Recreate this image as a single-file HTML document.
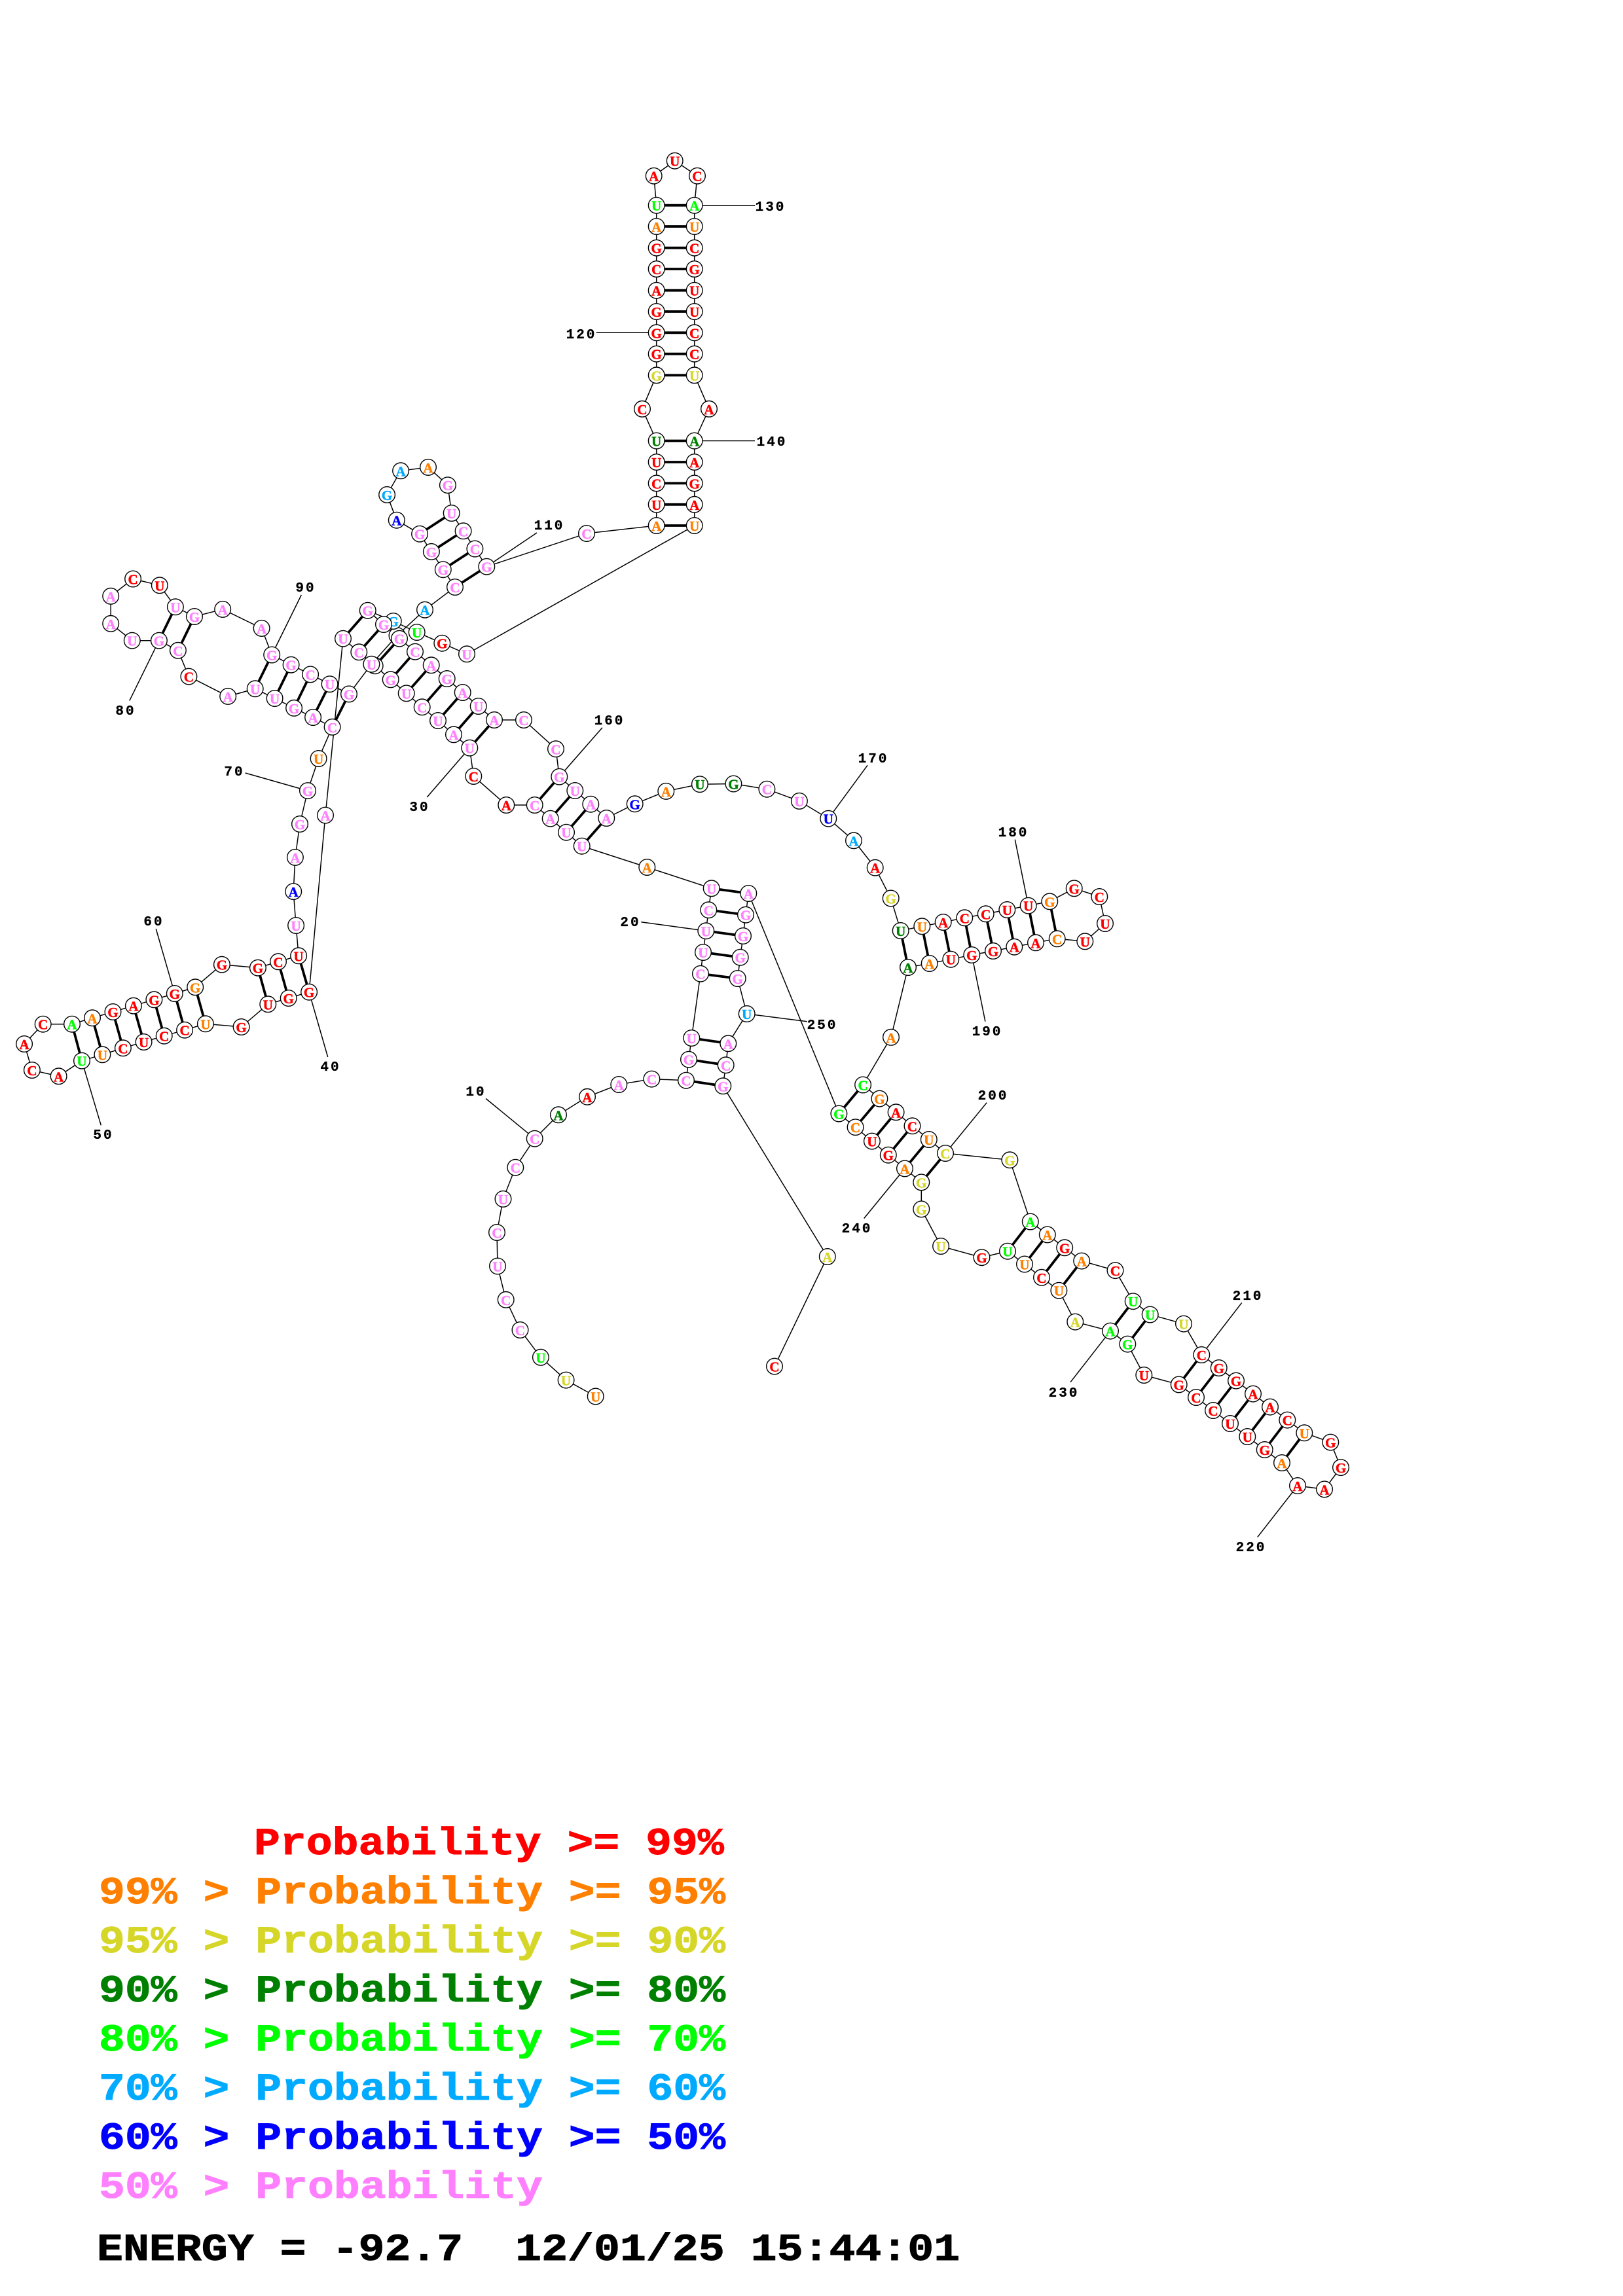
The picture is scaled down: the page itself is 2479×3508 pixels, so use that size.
<!DOCTYPE html>
<html><head><meta charset="utf-8"><title>RNA secondary structure</title>
<style>
html,body{margin:0;padding:0;background:#fff}
svg{display:block}
circle{fill:#fff;stroke:#000;stroke-width:1.4}
.n text{font:bold 21px "Liberation Serif",serif;text-anchor:middle;stroke-width:.5}
.r{fill:#ff0000;stroke:#ff0000}.o{fill:#ff8000;stroke:#ff8000}.y{fill:#d6d628;stroke:#d6d628}.d{fill:#008000;stroke:#008000}.g{fill:#00ff00;stroke:#00ff00}.c{fill:#00aaff;stroke:#00aaff}.b{fill:#0000ff;stroke:#0000ff}.p{fill:#ff80ff;stroke:#ff80ff}.k0{fill:#000;stroke:#000}
.l text{font:bold 21px "Liberation Mono",monospace;text-anchor:middle;letter-spacing:3px;fill:#000;stroke:#000;stroke-width:.3}
.k text{font:bold 58px "Liberation Mono",monospace;white-space:pre;stroke-width:.9}
</style></head><body>
<svg xmlns="http://www.w3.org/2000/svg" width="2479" height="3508" viewBox="0 0 2479 3508">
<rect width="2479" height="3508" fill="#fff"/>
<polyline fill="none" stroke="#000" stroke-width="1.5" points="909.7,2133.5 864.6,2108.6 825.9,2073.8 794.5,2032 772.7,1985.8 760,1934.5 759,1883 768.5,1831.9 787.3,1783.7 816.7,1739.7 853,1703.3 897,1675.8 945.3,1657 995.4,1648.6 1048,1650.7 1052,1618.7 1056.3,1586 1070,1487.7 1074,1455 1078.3,1422.3 1082.3,1390.3 1086.7,1357.3 988.3,1325 888.7,1292.7 865,1271.7 840.7,1250.7 816.7,1230 773.3,1230 723.3,1186 717.3,1142.7 693,1122.3 669,1101 644.7,1080.3 620.7,1059.3 596.7,1038.3 572.7,1017.3 548.3,996.3 524,975.7 497,1245.6 472.1,1515.7 440.7,1525 409.3,1534.3 368.6,1569 313.9,1564.3 282.1,1573.7 250.7,1582.7 219.6,1592 187.9,1601.3 156.4,1611.3 125,1620.7 89.6,1644.3 48.9,1635 37.1,1595 65.7,1564.7 110,1564.7 141,1555.3 172.5,1546 203.9,1536.7 235.4,1527.3 266.8,1518 298.2,1508.3 338.9,1473.7 393.9,1478.7 425,1469.3 456.1,1460.3 452.1,1414 448.2,1362.1 450.9,1309.9 458,1259 470,1208.1 486.6,1159 507.6,1110.8 478.1,1096 449.1,1081.8 419.6,1067 389.7,1052.3 348.2,1063.9 288.4,1033.6 271.9,993.8 242.9,978.7 201.8,978.7 169.2,952.8 169.2,910.8 203.1,884.5 243.8,894.3 267.9,927.3 297,942 340.2,930.9 399.6,959.9 415.2,1000.5 444.6,1015.7 474.1,1030.4 503.6,1045.2 533,1060.4 567.4,1014.8 606.5,971 649,931.7 695,897 676.8,870.2 658.9,842.9 641.1,815.7 605.8,794.7 591.1,755.9 612.1,719.3 654,713.9 683.9,741.2 689.7,784 707.6,811.3 725.4,838.5 743.3,865.7 896,815 1002.7,803 1002.7,770.8 1002.7,738.4 1002.7,706 1002.7,673.5 981,624.8 1002.7,573.3 1002.7,540.7 1002.7,508.3 1002.7,476 1002.7,443.7 1002.7,411 1002.7,378.7 1002.7,346 1002.7,313.7 998.7,268.7 1030.7,245.7 1065,268.7 1060.7,313.7 1060.7,346 1060.7,378.7 1060.7,411 1060.7,443.7 1060.7,476 1060.7,508.3 1060.7,540.7 1060.7,573.3 1083,624.8 1060.7,673.5 1060.7,706 1060.7,738.4 1060.7,770.8 1060.7,803 713,999.3 675.3,982.7 636.7,966 600.7,949 561.7,932.7 586,954 610,975.7 634,995.7 658.7,1016.3 682.7,1037 706.7,1058 730.7,1079 755,1100 800,1100 849,1144.3 854.3,1186.7 878.3,1208 902.3,1228.7 926.3,1250 969.7,1228.3 1017.3,1208.9 1068.9,1198.2 1120.4,1197.5 1171.4,1205.7 1220.9,1223.9 1265.3,1250.7 1304,1284.3 1336.7,1325.7 1360.7,1372.5 1375.7,1422 1408.3,1415.3 1440.7,1409 1473.3,1402.3 1505.7,1396.3 1538.3,1390 1570.7,1383.7 1603.3,1377.3 1640.7,1357.3 1679.3,1370 1688,1411 1657.3,1438.3 1614.7,1434.3 1582,1440.3 1549.3,1446.7 1517,1453 1484.3,1459 1452.3,1465.7 1419.7,1472 1387,1478 1361,1584.8 1318.1,1657.5 1343.4,1678.6 1368.6,1699.3 1393.5,1720.3 1418.8,1741 1444,1762 1542.4,1772.3 1573.8,1866.5 1599.8,1886.4 1626.2,1906.3 1652.2,1926.6 1703.5,1941.1 1730.7,1988.2 1756.7,2008.5 1808,2022.6 1835.3,2070 1861.7,2090 1888,2109.6 1914,2129.6 1940,2149.6 1966.3,2169.6 1992.3,2189.3 2032.3,2203.6 2048,2242.1 2023,2275.4 1982,2270 1958,2235 1931.7,2215 1905.3,2195 1879,2175 1853,2155 1827,2135 1800.7,2115.4 1747.3,2101 1722.3,2053.6 1696,2033.6 1642.3,2019.6 1617.4,1971.7 1591,1951.8 1565,1931.5 1539,1911.7 1499.5,1921.2 1437.1,1904 1407.3,1847.4 1407.3,1806.4 1382,1785.4 1356.8,1764.7 1331.9,1743.6 1306.6,1722.2 1281.4,1701.5 1143.3,1365 1139,1397.7 1135,1430 1130.7,1462.7 1126.7,1495 1140.7,1549 1112.3,1594.3 1108.7,1627.3 1104.3,1659.3 1263.8,1920 1183,2087.6"/>
<path fill="none" stroke="#000" stroke-width="3.8" d="M1048 1650.7L1104.3 1659.3M1052 1618.7L1108.7 1627.3M1056.3 1586L1112.3 1594.3M1070 1487.7L1126.7 1495M1074 1455L1130.7 1462.7M1078.3 1422.3L1135 1430M1082.3 1390.3L1139 1397.7M1086.7 1357.3L1143.3 1365M888.7 1292.7L926.3 1250M865 1271.7L902.3 1228.7M840.7 1250.7L878.3 1208M816.7 1230L854.3 1186.7M717.3 1142.7L755 1100M693 1122.3L730.7 1079M669 1101L706.7 1058M644.7 1080.3L682.7 1037M620.7 1059.3L658.7 1016.3M596.7 1038.3L634 995.7M572.7 1017.3L610 975.7M548.3 996.3L586 954M524 975.7L561.7 932.7M472.1 1515.7L456.1 1460.3M440.7 1525L425 1469.3M409.3 1534.3L393.9 1478.7M313.9 1564.3L298.2 1508.3M282.1 1573.7L266.8 1518M250.7 1582.7L235.4 1527.3M219.6 1592L203.9 1536.7M187.9 1601.3L172.5 1546M156.4 1611.3L141 1555.3M125 1620.7L110 1564.7M507.6 1110.8L533 1060.4M478.1 1096L503.6 1045.2M449.1 1081.8L474.1 1030.4M419.6 1067L444.6 1015.7M389.7 1052.3L415.2 1000.5M271.9 993.8L297 942M242.9 978.7L267.9 927.3M695 897L743.3 865.7M676.8 870.2L725.4 838.5M658.9 842.9L707.6 811.3M641.1 815.7L689.7 784M1002.7 803H1060.7M1002.7 770.8H1060.7M1002.7 738.4H1060.7M1002.7 706H1060.7M1002.7 673.5H1060.7M1002.7 573.3H1060.7M1002.7 540.7H1060.7M1002.7 508.3H1060.7M1002.7 476H1060.7M1002.7 443.7H1060.7M1002.7 411H1060.7M1002.7 378.7H1060.7M1002.7 346H1060.7M1002.7 313.7H1060.7M1375.7 1422L1387 1478M1408.3 1415.3L1419.7 1472M1440.7 1409L1452.3 1465.7M1473.3 1402.3L1484.3 1459M1505.7 1396.3L1517 1453M1538.3 1390L1549.3 1446.7M1570.7 1383.7L1582 1440.3M1603.3 1377.3L1614.7 1434.3M1318.1 1657.5L1281.4 1701.5M1343.4 1678.6L1306.6 1722.2M1368.6 1699.3L1331.9 1743.6M1393.5 1720.3L1356.8 1764.7M1418.8 1741L1382 1785.4M1444 1762L1407.3 1806.4M1573.8 1866.5L1539 1911.7M1599.8 1886.4L1565 1931.5M1626.2 1906.3L1591 1951.8M1652.2 1926.6L1617.4 1971.7M1730.7 1988.2L1696 2033.6M1756.7 2008.5L1722.3 2053.6M1835.3 2070L1800.7 2115.4M1861.7 2090L1827 2135M1888 2109.6L1853 2155M1914 2129.6L1879 2175M1940 2149.6L1905.3 2195M1966.3 2169.6L1931.7 2215M1992.3 2189.3L1958 2235"/>
<path fill="none" stroke="#000" stroke-width="1.5" d="M816.7 1739.7L742.1 1678.5M1078.3 1422.3L979.3 1408.7M717.3 1142.7L652.2 1218M472.1 1515.7L500.7 1615M125 1620.7L154.3 1719.3M266.8 1518L238.2 1419M470 1208.1L374.6 1181M242.9 978.7L197.8 1070.6M415.2 1000.5L460.3 909M743.3 865.7L820 814M1002.7 508.3H910.7M1060.7 313.7H1153.3M1060.7 673.5H1153M854.3 1186.7L920 1111.7M1265.3 1250.7L1325 1169.3M1570.7 1383.7L1550.3 1282.7M1484.3 1459L1504.9 1560.7M1444 1762L1507.2 1684.7M1835.3 2070L1896.7 1990.4M1982 2270L1920.7 2348.6M1696 2033.6L1635 2111.8M1382 1785.4L1319.7 1861.5M1140.7 1549L1232.7 1560.7"/>
<g class="n">
<g class="o" transform="translate(909.7 2133.5)"><circle r="12.3"/><text y="8">U</text></g>
<g class="y" transform="translate(864.6 2108.6)"><circle r="12.3"/><text y="8">U</text></g>
<g class="g" transform="translate(825.9 2073.8)"><circle r="12.3"/><text y="8">U</text></g>
<g class="p" transform="translate(794.5 2032)"><circle r="12.3"/><text y="8">C</text></g>
<g class="p" transform="translate(772.7 1985.8)"><circle r="12.3"/><text y="8">C</text></g>
<g class="p" transform="translate(760 1934.5)"><circle r="12.3"/><text y="8">U</text></g>
<g class="p" transform="translate(759 1883)"><circle r="12.3"/><text y="8">C</text></g>
<g class="p" transform="translate(768.5 1831.9)"><circle r="12.3"/><text y="8">U</text></g>
<g class="p" transform="translate(787.3 1783.7)"><circle r="12.3"/><text y="8">C</text></g>
<g class="p" transform="translate(816.7 1739.7)"><circle r="12.3"/><text y="8">C</text></g>
<g class="d" transform="translate(853 1703.3)"><circle r="12.3"/><text y="8">A</text></g>
<g class="r" transform="translate(897 1675.8)"><circle r="12.3"/><text y="8">A</text></g>
<g class="p" transform="translate(945.3 1657)"><circle r="12.3"/><text y="8">A</text></g>
<g class="p" transform="translate(995.4 1648.6)"><circle r="12.3"/><text y="8">C</text></g>
<g class="p" transform="translate(1048 1650.7)"><circle r="12.3"/><text y="8">C</text></g>
<g class="p" transform="translate(1052 1618.7)"><circle r="12.3"/><text y="8">G</text></g>
<g class="p" transform="translate(1056.3 1586)"><circle r="12.3"/><text y="8">U</text></g>
<g class="p" transform="translate(1070 1487.7)"><circle r="12.3"/><text y="8">C</text></g>
<g class="p" transform="translate(1074 1455)"><circle r="12.3"/><text y="8">U</text></g>
<g class="p" transform="translate(1078.3 1422.3)"><circle r="12.3"/><text y="8">U</text></g>
<g class="p" transform="translate(1082.3 1390.3)"><circle r="12.3"/><text y="8">C</text></g>
<g class="p" transform="translate(1086.7 1357.3)"><circle r="12.3"/><text y="8">U</text></g>
<g class="o" transform="translate(988.3 1325)"><circle r="12.3"/><text y="8">A</text></g>
<g class="p" transform="translate(888.7 1292.7)"><circle r="12.3"/><text y="8">U</text></g>
<g class="p" transform="translate(865 1271.7)"><circle r="12.3"/><text y="8">U</text></g>
<g class="p" transform="translate(840.7 1250.7)"><circle r="12.3"/><text y="8">A</text></g>
<g class="p" transform="translate(816.7 1230)"><circle r="12.3"/><text y="8">C</text></g>
<g class="r" transform="translate(773.3 1230)"><circle r="12.3"/><text y="8">A</text></g>
<g class="r" transform="translate(723.3 1186)"><circle r="12.3"/><text y="8">C</text></g>
<g class="p" transform="translate(717.3 1142.7)"><circle r="12.3"/><text y="8">U</text></g>
<g class="p" transform="translate(693 1122.3)"><circle r="12.3"/><text y="8">A</text></g>
<g class="p" transform="translate(669 1101)"><circle r="12.3"/><text y="8">U</text></g>
<g class="p" transform="translate(644.7 1080.3)"><circle r="12.3"/><text y="8">C</text></g>
<g class="p" transform="translate(620.7 1059.3)"><circle r="12.3"/><text y="8">U</text></g>
<g class="p" transform="translate(596.7 1038.3)"><circle r="12.3"/><text y="8">G</text></g>
<g class="p" transform="translate(572.7 1017.3)"><circle r="12.3"/><text y="8">U</text></g>
<g class="p" transform="translate(548.3 996.3)"><circle r="12.3"/><text y="8">C</text></g>
<g class="p" transform="translate(524 975.7)"><circle r="12.3"/><text y="8">U</text></g>
<g class="p" transform="translate(497 1245.6)"><circle r="12.3"/><text y="8">A</text></g>
<g class="r" transform="translate(472.1 1515.7)"><circle r="12.3"/><text y="8">G</text></g>
<g class="r" transform="translate(440.7 1525)"><circle r="12.3"/><text y="8">G</text></g>
<g class="r" transform="translate(409.3 1534.3)"><circle r="12.3"/><text y="8">U</text></g>
<g class="r" transform="translate(368.6 1569)"><circle r="12.3"/><text y="8">G</text></g>
<g class="o" transform="translate(313.9 1564.3)"><circle r="12.3"/><text y="8">U</text></g>
<g class="r" transform="translate(282.1 1573.7)"><circle r="12.3"/><text y="8">C</text></g>
<g class="r" transform="translate(250.7 1582.7)"><circle r="12.3"/><text y="8">C</text></g>
<g class="r" transform="translate(219.6 1592)"><circle r="12.3"/><text y="8">U</text></g>
<g class="r" transform="translate(187.9 1601.3)"><circle r="12.3"/><text y="8">C</text></g>
<g class="o" transform="translate(156.4 1611.3)"><circle r="12.3"/><text y="8">U</text></g>
<g class="g" transform="translate(125 1620.7)"><circle r="12.3"/><text y="8">U</text></g>
<g class="r" transform="translate(89.6 1644.3)"><circle r="12.3"/><text y="8">A</text></g>
<g class="r" transform="translate(48.9 1635)"><circle r="12.3"/><text y="8">C</text></g>
<g class="r" transform="translate(37.1 1595)"><circle r="12.3"/><text y="8">A</text></g>
<g class="r" transform="translate(65.7 1564.7)"><circle r="12.3"/><text y="8">C</text></g>
<g class="g" transform="translate(110 1564.7)"><circle r="12.3"/><text y="8">A</text></g>
<g class="o" transform="translate(141 1555.3)"><circle r="12.3"/><text y="8">A</text></g>
<g class="r" transform="translate(172.5 1546)"><circle r="12.3"/><text y="8">G</text></g>
<g class="r" transform="translate(203.9 1536.7)"><circle r="12.3"/><text y="8">A</text></g>
<g class="r" transform="translate(235.4 1527.3)"><circle r="12.3"/><text y="8">G</text></g>
<g class="r" transform="translate(266.8 1518)"><circle r="12.3"/><text y="8">G</text></g>
<g class="o" transform="translate(298.2 1508.3)"><circle r="12.3"/><text y="8">G</text></g>
<g class="r" transform="translate(338.9 1473.7)"><circle r="12.3"/><text y="8">G</text></g>
<g class="r" transform="translate(393.9 1478.7)"><circle r="12.3"/><text y="8">G</text></g>
<g class="r" transform="translate(425 1469.3)"><circle r="12.3"/><text y="8">C</text></g>
<g class="r" transform="translate(456.1 1460.3)"><circle r="12.3"/><text y="8">U</text></g>
<g class="p" transform="translate(452.1 1414)"><circle r="12.3"/><text y="8">U</text></g>
<g class="b" transform="translate(448.2 1362.1)"><circle r="12.3"/><text y="8">A</text></g>
<g class="p" transform="translate(450.9 1309.9)"><circle r="12.3"/><text y="8">A</text></g>
<g class="p" transform="translate(458 1259)"><circle r="12.3"/><text y="8">G</text></g>
<g class="p" transform="translate(470 1208.1)"><circle r="12.3"/><text y="8">G</text></g>
<g class="o" transform="translate(486.6 1159)"><circle r="12.3"/><text y="8">U</text></g>
<g class="p" transform="translate(507.6 1110.8)"><circle r="12.3"/><text y="8">C</text></g>
<g class="p" transform="translate(478.1 1096)"><circle r="12.3"/><text y="8">A</text></g>
<g class="p" transform="translate(449.1 1081.8)"><circle r="12.3"/><text y="8">G</text></g>
<g class="p" transform="translate(419.6 1067)"><circle r="12.3"/><text y="8">U</text></g>
<g class="p" transform="translate(389.7 1052.3)"><circle r="12.3"/><text y="8">U</text></g>
<g class="p" transform="translate(348.2 1063.9)"><circle r="12.3"/><text y="8">A</text></g>
<g class="r" transform="translate(288.4 1033.6)"><circle r="12.3"/><text y="8">C</text></g>
<g class="p" transform="translate(271.9 993.8)"><circle r="12.3"/><text y="8">C</text></g>
<g class="p" transform="translate(242.9 978.7)"><circle r="12.3"/><text y="8">G</text></g>
<g class="p" transform="translate(201.8 978.7)"><circle r="12.3"/><text y="8">U</text></g>
<g class="p" transform="translate(169.2 952.8)"><circle r="12.3"/><text y="8">A</text></g>
<g class="p" transform="translate(169.2 910.8)"><circle r="12.3"/><text y="8">A</text></g>
<g class="r" transform="translate(203.1 884.5)"><circle r="12.3"/><text y="8">C</text></g>
<g class="r" transform="translate(243.8 894.3)"><circle r="12.3"/><text y="8">U</text></g>
<g class="p" transform="translate(267.9 927.3)"><circle r="12.3"/><text y="8">U</text></g>
<g class="p" transform="translate(297 942)"><circle r="12.3"/><text y="8">G</text></g>
<g class="p" transform="translate(340.2 930.9)"><circle r="12.3"/><text y="8">A</text></g>
<g class="p" transform="translate(399.6 959.9)"><circle r="12.3"/><text y="8">A</text></g>
<g class="p" transform="translate(415.2 1000.5)"><circle r="12.3"/><text y="8">G</text></g>
<g class="p" transform="translate(444.6 1015.7)"><circle r="12.3"/><text y="8">G</text></g>
<g class="p" transform="translate(474.1 1030.4)"><circle r="12.3"/><text y="8">C</text></g>
<g class="p" transform="translate(503.6 1045.2)"><circle r="12.3"/><text y="8">U</text></g>
<g class="p" transform="translate(533 1060.4)"><circle r="12.3"/><text y="8">G</text></g>
<g class="p" transform="translate(567.4 1014.8)"><circle r="12.3"/><text y="8">U</text></g>
<g class="p" transform="translate(606.5 971)"><circle r="12.3"/><text y="8">G</text></g>
<g class="c" transform="translate(649 931.7)"><circle r="12.3"/><text y="8">A</text></g>
<g class="p" transform="translate(695 897)"><circle r="12.3"/><text y="8">C</text></g>
<g class="p" transform="translate(676.8 870.2)"><circle r="12.3"/><text y="8">G</text></g>
<g class="p" transform="translate(658.9 842.9)"><circle r="12.3"/><text y="8">G</text></g>
<g class="p" transform="translate(641.1 815.7)"><circle r="12.3"/><text y="8">G</text></g>
<g class="b" transform="translate(605.8 794.7)"><circle r="12.3"/><text y="8">A</text></g>
<g class="c" transform="translate(591.1 755.9)"><circle r="12.3"/><text y="8">G</text></g>
<g class="c" transform="translate(612.1 719.3)"><circle r="12.3"/><text y="8">A</text></g>
<g class="o" transform="translate(654 713.9)"><circle r="12.3"/><text y="8">A</text></g>
<g class="p" transform="translate(683.9 741.2)"><circle r="12.3"/><text y="8">G</text></g>
<g class="p" transform="translate(689.7 784)"><circle r="12.3"/><text y="8">U</text></g>
<g class="p" transform="translate(707.6 811.3)"><circle r="12.3"/><text y="8">C</text></g>
<g class="p" transform="translate(725.4 838.5)"><circle r="12.3"/><text y="8">C</text></g>
<g class="p" transform="translate(743.3 865.7)"><circle r="12.3"/><text y="8">G</text></g>
<g class="p" transform="translate(896 815)"><circle r="12.3"/><text y="8">C</text></g>
<g class="o" transform="translate(1002.7 803)"><circle r="12.3"/><text y="8">A</text></g>
<g class="r" transform="translate(1002.7 770.8)"><circle r="12.3"/><text y="8">U</text></g>
<g class="r" transform="translate(1002.7 738.4)"><circle r="12.3"/><text y="8">C</text></g>
<g class="r" transform="translate(1002.7 706)"><circle r="12.3"/><text y="8">U</text></g>
<g class="d" transform="translate(1002.7 673.5)"><circle r="12.3"/><text y="8">U</text></g>
<g class="r" transform="translate(981 624.8)"><circle r="12.3"/><text y="8">C</text></g>
<g class="y" transform="translate(1002.7 573.3)"><circle r="12.3"/><text y="8">G</text></g>
<g class="r" transform="translate(1002.7 540.7)"><circle r="12.3"/><text y="8">G</text></g>
<g class="r" transform="translate(1002.7 508.3)"><circle r="12.3"/><text y="8">G</text></g>
<g class="r" transform="translate(1002.7 476)"><circle r="12.3"/><text y="8">G</text></g>
<g class="r" transform="translate(1002.7 443.7)"><circle r="12.3"/><text y="8">A</text></g>
<g class="r" transform="translate(1002.7 411)"><circle r="12.3"/><text y="8">C</text></g>
<g class="r" transform="translate(1002.7 378.7)"><circle r="12.3"/><text y="8">G</text></g>
<g class="o" transform="translate(1002.7 346)"><circle r="12.3"/><text y="8">A</text></g>
<g class="g" transform="translate(1002.7 313.7)"><circle r="12.3"/><text y="8">U</text></g>
<g class="r" transform="translate(998.7 268.7)"><circle r="12.3"/><text y="8">A</text></g>
<g class="r" transform="translate(1030.7 245.7)"><circle r="12.3"/><text y="8">U</text></g>
<g class="r" transform="translate(1065 268.7)"><circle r="12.3"/><text y="8">C</text></g>
<g class="g" transform="translate(1060.7 313.7)"><circle r="12.3"/><text y="8">A</text></g>
<g class="o" transform="translate(1060.7 346)"><circle r="12.3"/><text y="8">U</text></g>
<g class="r" transform="translate(1060.7 378.7)"><circle r="12.3"/><text y="8">C</text></g>
<g class="r" transform="translate(1060.7 411)"><circle r="12.3"/><text y="8">G</text></g>
<g class="r" transform="translate(1060.7 443.7)"><circle r="12.3"/><text y="8">U</text></g>
<g class="r" transform="translate(1060.7 476)"><circle r="12.3"/><text y="8">U</text></g>
<g class="r" transform="translate(1060.7 508.3)"><circle r="12.3"/><text y="8">C</text></g>
<g class="r" transform="translate(1060.7 540.7)"><circle r="12.3"/><text y="8">C</text></g>
<g class="y" transform="translate(1060.7 573.3)"><circle r="12.3"/><text y="8">U</text></g>
<g class="r" transform="translate(1083 624.8)"><circle r="12.3"/><text y="8">A</text></g>
<g class="d" transform="translate(1060.7 673.5)"><circle r="12.3"/><text y="8">A</text></g>
<g class="r" transform="translate(1060.7 706)"><circle r="12.3"/><text y="8">A</text></g>
<g class="r" transform="translate(1060.7 738.4)"><circle r="12.3"/><text y="8">G</text></g>
<g class="r" transform="translate(1060.7 770.8)"><circle r="12.3"/><text y="8">A</text></g>
<g class="o" transform="translate(1060.7 803)"><circle r="12.3"/><text y="8">U</text></g>
<g class="p" transform="translate(713 999.3)"><circle r="12.3"/><text y="8">U</text></g>
<g class="r" transform="translate(675.3 982.7)"><circle r="12.3"/><text y="8">G</text></g>
<g class="g" transform="translate(636.7 966)"><circle r="12.3"/><text y="8">U</text></g>
<g class="c" transform="translate(600.7 949)"><circle r="12.3"/><text y="8">G</text></g>
<g class="p" transform="translate(561.7 932.7)"><circle r="12.3"/><text y="8">G</text></g>
<g class="p" transform="translate(586 954)"><circle r="12.3"/><text y="8">G</text></g>
<g class="p" transform="translate(610 975.7)"><circle r="12.3"/><text y="8">G</text></g>
<g class="p" transform="translate(634 995.7)"><circle r="12.3"/><text y="8">C</text></g>
<g class="p" transform="translate(658.7 1016.3)"><circle r="12.3"/><text y="8">A</text></g>
<g class="p" transform="translate(682.7 1037)"><circle r="12.3"/><text y="8">G</text></g>
<g class="p" transform="translate(706.7 1058)"><circle r="12.3"/><text y="8">A</text></g>
<g class="p" transform="translate(730.7 1079)"><circle r="12.3"/><text y="8">U</text></g>
<g class="p" transform="translate(755 1100)"><circle r="12.3"/><text y="8">A</text></g>
<g class="p" transform="translate(800 1100)"><circle r="12.3"/><text y="8">C</text></g>
<g class="p" transform="translate(849 1144.3)"><circle r="12.3"/><text y="8">C</text></g>
<g class="p" transform="translate(854.3 1186.7)"><circle r="12.3"/><text y="8">G</text></g>
<g class="p" transform="translate(878.3 1208)"><circle r="12.3"/><text y="8">U</text></g>
<g class="p" transform="translate(902.3 1228.7)"><circle r="12.3"/><text y="8">A</text></g>
<g class="p" transform="translate(926.3 1250)"><circle r="12.3"/><text y="8">A</text></g>
<g class="b" transform="translate(969.7 1228.3)"><circle r="12.3"/><text y="8">G</text></g>
<g class="o" transform="translate(1017.3 1208.9)"><circle r="12.3"/><text y="8">A</text></g>
<g class="d" transform="translate(1068.9 1198.2)"><circle r="12.3"/><text y="8">U</text></g>
<g class="d" transform="translate(1120.4 1197.5)"><circle r="12.3"/><text y="8">G</text></g>
<g class="p" transform="translate(1171.4 1205.7)"><circle r="12.3"/><text y="8">C</text></g>
<g class="p" transform="translate(1220.9 1223.9)"><circle r="12.3"/><text y="8">U</text></g>
<g class="b" transform="translate(1265.3 1250.7)"><circle r="12.3"/><text y="8">U</text></g>
<g class="c" transform="translate(1304 1284.3)"><circle r="12.3"/><text y="8">A</text></g>
<g class="r" transform="translate(1336.7 1325.7)"><circle r="12.3"/><text y="8">A</text></g>
<g class="y" transform="translate(1360.7 1372.5)"><circle r="12.3"/><text y="8">G</text></g>
<g class="d" transform="translate(1375.7 1422)"><circle r="12.3"/><text y="8">U</text></g>
<g class="o" transform="translate(1408.3 1415.3)"><circle r="12.3"/><text y="8">U</text></g>
<g class="r" transform="translate(1440.7 1409)"><circle r="12.3"/><text y="8">A</text></g>
<g class="r" transform="translate(1473.3 1402.3)"><circle r="12.3"/><text y="8">C</text></g>
<g class="r" transform="translate(1505.7 1396.3)"><circle r="12.3"/><text y="8">C</text></g>
<g class="r" transform="translate(1538.3 1390)"><circle r="12.3"/><text y="8">U</text></g>
<g class="r" transform="translate(1570.7 1383.7)"><circle r="12.3"/><text y="8">U</text></g>
<g class="o" transform="translate(1603.3 1377.3)"><circle r="12.3"/><text y="8">G</text></g>
<g class="r" transform="translate(1640.7 1357.3)"><circle r="12.3"/><text y="8">G</text></g>
<g class="r" transform="translate(1679.3 1370)"><circle r="12.3"/><text y="8">C</text></g>
<g class="r" transform="translate(1688 1411)"><circle r="12.3"/><text y="8">U</text></g>
<g class="r" transform="translate(1657.3 1438.3)"><circle r="12.3"/><text y="8">U</text></g>
<g class="o" transform="translate(1614.7 1434.3)"><circle r="12.3"/><text y="8">C</text></g>
<g class="r" transform="translate(1582 1440.3)"><circle r="12.3"/><text y="8">A</text></g>
<g class="r" transform="translate(1549.3 1446.7)"><circle r="12.3"/><text y="8">A</text></g>
<g class="r" transform="translate(1517 1453)"><circle r="12.3"/><text y="8">G</text></g>
<g class="r" transform="translate(1484.3 1459)"><circle r="12.3"/><text y="8">G</text></g>
<g class="r" transform="translate(1452.3 1465.7)"><circle r="12.3"/><text y="8">U</text></g>
<g class="o" transform="translate(1419.7 1472)"><circle r="12.3"/><text y="8">A</text></g>
<g class="d" transform="translate(1387 1478)"><circle r="12.3"/><text y="8">A</text></g>
<g class="o" transform="translate(1361 1584.8)"><circle r="12.3"/><text y="8">A</text></g>
<g class="g" transform="translate(1318.1 1657.5)"><circle r="12.3"/><text y="8">C</text></g>
<g class="o" transform="translate(1343.4 1678.6)"><circle r="12.3"/><text y="8">G</text></g>
<g class="r" transform="translate(1368.6 1699.3)"><circle r="12.3"/><text y="8">A</text></g>
<g class="r" transform="translate(1393.5 1720.3)"><circle r="12.3"/><text y="8">C</text></g>
<g class="o" transform="translate(1418.8 1741)"><circle r="12.3"/><text y="8">U</text></g>
<g class="y" transform="translate(1444 1762)"><circle r="12.3"/><text y="8">C</text></g>
<g class="y" transform="translate(1542.4 1772.3)"><circle r="12.3"/><text y="8">G</text></g>
<g class="g" transform="translate(1573.8 1866.5)"><circle r="12.3"/><text y="8">A</text></g>
<g class="o" transform="translate(1599.8 1886.4)"><circle r="12.3"/><text y="8">A</text></g>
<g class="r" transform="translate(1626.2 1906.3)"><circle r="12.3"/><text y="8">G</text></g>
<g class="o" transform="translate(1652.2 1926.6)"><circle r="12.3"/><text y="8">A</text></g>
<g class="r" transform="translate(1703.5 1941.1)"><circle r="12.3"/><text y="8">C</text></g>
<g class="g" transform="translate(1730.7 1988.2)"><circle r="12.3"/><text y="8">U</text></g>
<g class="g" transform="translate(1756.7 2008.5)"><circle r="12.3"/><text y="8">U</text></g>
<g class="y" transform="translate(1808 2022.6)"><circle r="12.3"/><text y="8">U</text></g>
<g class="r" transform="translate(1835.3 2070)"><circle r="12.3"/><text y="8">C</text></g>
<g class="r" transform="translate(1861.7 2090)"><circle r="12.3"/><text y="8">G</text></g>
<g class="r" transform="translate(1888 2109.6)"><circle r="12.3"/><text y="8">G</text></g>
<g class="r" transform="translate(1914 2129.6)"><circle r="12.3"/><text y="8">A</text></g>
<g class="r" transform="translate(1940 2149.6)"><circle r="12.3"/><text y="8">A</text></g>
<g class="r" transform="translate(1966.3 2169.6)"><circle r="12.3"/><text y="8">C</text></g>
<g class="o" transform="translate(1992.3 2189.3)"><circle r="12.3"/><text y="8">U</text></g>
<g class="r" transform="translate(2032.3 2203.6)"><circle r="12.3"/><text y="8">G</text></g>
<g class="r" transform="translate(2048 2242.1)"><circle r="12.3"/><text y="8">G</text></g>
<g class="r" transform="translate(2023 2275.4)"><circle r="12.3"/><text y="8">A</text></g>
<g class="r" transform="translate(1982 2270)"><circle r="12.3"/><text y="8">A</text></g>
<g class="o" transform="translate(1958 2235)"><circle r="12.3"/><text y="8">A</text></g>
<g class="r" transform="translate(1931.7 2215)"><circle r="12.3"/><text y="8">G</text></g>
<g class="r" transform="translate(1905.3 2195)"><circle r="12.3"/><text y="8">U</text></g>
<g class="r" transform="translate(1879 2175)"><circle r="12.3"/><text y="8">U</text></g>
<g class="r" transform="translate(1853 2155)"><circle r="12.3"/><text y="8">C</text></g>
<g class="r" transform="translate(1827 2135)"><circle r="12.3"/><text y="8">C</text></g>
<g class="r" transform="translate(1800.7 2115.4)"><circle r="12.3"/><text y="8">G</text></g>
<g class="r" transform="translate(1747.3 2101)"><circle r="12.3"/><text y="8">U</text></g>
<g class="g" transform="translate(1722.3 2053.6)"><circle r="12.3"/><text y="8">G</text></g>
<g class="g" transform="translate(1696 2033.6)"><circle r="12.3"/><text y="8">A</text></g>
<g class="y" transform="translate(1642.3 2019.6)"><circle r="12.3"/><text y="8">A</text></g>
<g class="o" transform="translate(1617.4 1971.7)"><circle r="12.3"/><text y="8">U</text></g>
<g class="r" transform="translate(1591 1951.8)"><circle r="12.3"/><text y="8">C</text></g>
<g class="o" transform="translate(1565 1931.5)"><circle r="12.3"/><text y="8">U</text></g>
<g class="g" transform="translate(1539 1911.7)"><circle r="12.3"/><text y="8">U</text></g>
<g class="r" transform="translate(1499.5 1921.2)"><circle r="12.3"/><text y="8">G</text></g>
<g class="y" transform="translate(1437.1 1904)"><circle r="12.3"/><text y="8">U</text></g>
<g class="y" transform="translate(1407.3 1847.4)"><circle r="12.3"/><text y="8">G</text></g>
<g class="y" transform="translate(1407.3 1806.4)"><circle r="12.3"/><text y="8">G</text></g>
<g class="o" transform="translate(1382 1785.4)"><circle r="12.3"/><text y="8">A</text></g>
<g class="r" transform="translate(1356.8 1764.7)"><circle r="12.3"/><text y="8">G</text></g>
<g class="r" transform="translate(1331.9 1743.6)"><circle r="12.3"/><text y="8">U</text></g>
<g class="o" transform="translate(1306.6 1722.2)"><circle r="12.3"/><text y="8">C</text></g>
<g class="g" transform="translate(1281.4 1701.5)"><circle r="12.3"/><text y="8">G</text></g>
<g class="p" transform="translate(1143.3 1365)"><circle r="12.3"/><text y="8">A</text></g>
<g class="p" transform="translate(1139 1397.7)"><circle r="12.3"/><text y="8">G</text></g>
<g class="p" transform="translate(1135 1430)"><circle r="12.3"/><text y="8">G</text></g>
<g class="p" transform="translate(1130.7 1462.7)"><circle r="12.3"/><text y="8">G</text></g>
<g class="p" transform="translate(1126.7 1495)"><circle r="12.3"/><text y="8">G</text></g>
<g class="c" transform="translate(1140.7 1549)"><circle r="12.3"/><text y="8">U</text></g>
<g class="p" transform="translate(1112.3 1594.3)"><circle r="12.3"/><text y="8">A</text></g>
<g class="p" transform="translate(1108.7 1627.3)"><circle r="12.3"/><text y="8">C</text></g>
<g class="p" transform="translate(1104.3 1659.3)"><circle r="12.3"/><text y="8">G</text></g>
<g class="y" transform="translate(1263.8 1920)"><circle r="12.3"/><text y="8">A</text></g>
<g class="r" transform="translate(1183 2087.6)"><circle r="12.3"/><text y="8">C</text></g>
</g>
<g class="l">
<text x="727" y="1674">10</text>
<text x="963" y="1415">20</text>
<text x="641" y="1239">30</text>
<text x="505" y="1636">40</text>
<text x="158" y="1740">50</text>
<text x="235" y="1414">60</text>
<text x="358" y="1185">70</text>
<text x="192" y="1092">80</text>
<text x="467" y="904">90</text>
<text x="839" y="809">110</text>
<text x="888" y="517">120</text>
<text x="1177" y="322">130</text>
<text x="1179" y="681">140</text>
<text x="931" y="1107">160</text>
<text x="1334" y="1165">170</text>
<text x="1548" y="1278">180</text>
<text x="1508" y="1582">190</text>
<text x="1517" y="1680">200</text>
<text x="1906" y="1986">210</text>
<text x="1911" y="2370">220</text>
<text x="1625" y="2134">230</text>
<text x="1309" y="1883">240</text>
<text x="1256" y="1572">250</text>
</g>
<g class="k">
<text class="r" transform="translate(388 2833) scale(1.146 1)">Probability &gt;= 99%</text>
<text class="o" transform="translate(151 2908) scale(1.146 1)">99% &gt; Probability &gt;= 95%</text>
<text class="y" transform="translate(151 2983) scale(1.146 1)">95% &gt; Probability &gt;= 90%</text>
<text class="d" transform="translate(151 3058) scale(1.146 1)">90% &gt; Probability &gt;= 80%</text>
<text class="g" transform="translate(151 3133) scale(1.146 1)">80% &gt; Probability &gt;= 70%</text>
<text class="c" transform="translate(151 3208) scale(1.146 1)">70% &gt; Probability &gt;= 60%</text>
<text class="b" transform="translate(151 3283) scale(1.146 1)">60% &gt; Probability &gt;= 50%</text>
<text class="p" transform="translate(151 3358) scale(1.146 1)">50% &gt; Probability</text>
<text class="k0" transform="translate(148 3453) scale(1.148 1)">ENERGY = -92.7  12/01/25 15:44:01</text>
</g>
</svg>
</body></html>
